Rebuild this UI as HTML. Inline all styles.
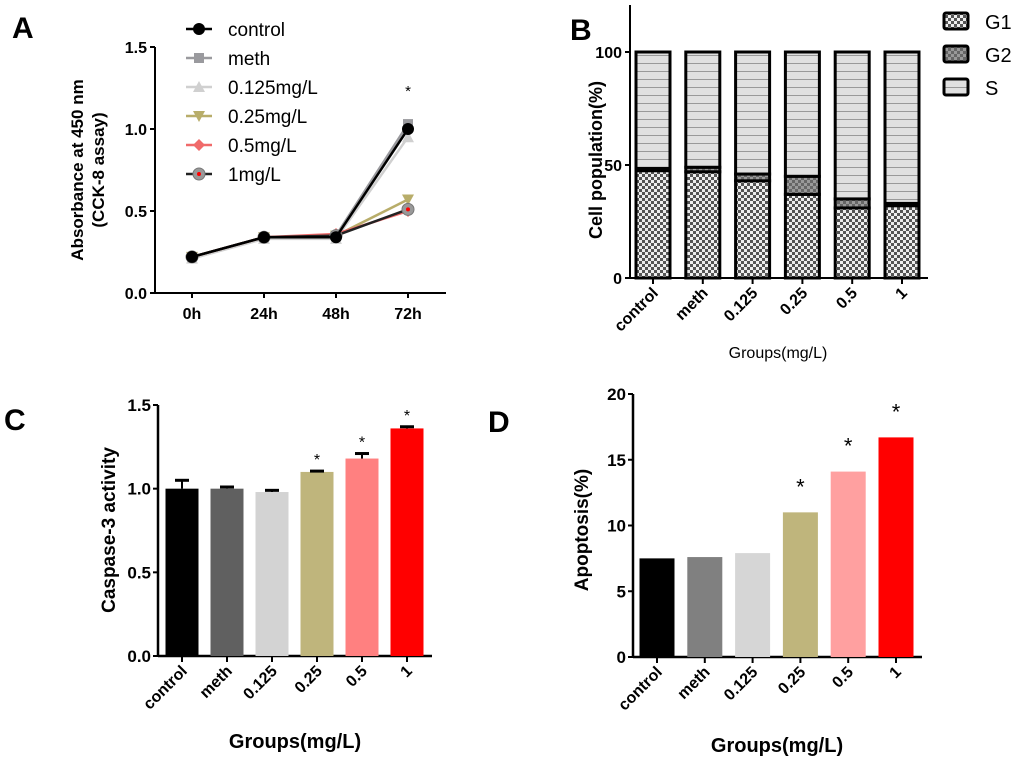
<!DOCTYPE html>
<html><head><meta charset="utf-8"><style>
body{margin:0;background:#fff;}
svg{display:block;font-family:"Liberation Sans",Arial,sans-serif;}
.b{font-weight:bold;}
</style></head><body>
<svg id="s" width="1020" height="768" viewBox="0 0 1020 768">
<defs>
<pattern id="chk" width="6" height="6" patternUnits="userSpaceOnUse"><rect width="6" height="6" fill="#eee"/><rect width="3" height="3" fill="#555"/><rect x="3" y="3" width="3" height="3" fill="#555"/></pattern>
<pattern id="chk2" width="6" height="6" patternUnits="userSpaceOnUse"><rect width="6" height="6" fill="#999"/><rect width="3" height="3" fill="#666"/><rect x="3" y="3" width="3" height="3" fill="#666"/></pattern>
<pattern id="hor" width="6" height="8" patternUnits="userSpaceOnUse"><rect width="6" height="8" fill="#e0e0e0"/><rect y="7" width="6" height="1" fill="#999"/></pattern>
</defs>
<text x="12" y="38" font-size="30" class="b">A</text>
<text x="570" y="40" font-size="30" class="b">B</text>
<text x="4" y="430" font-size="30" class="b">C</text>
<text x="488" y="432" font-size="30" class="b">D</text>
<g id="ga"></g><g id="gb"></g><g id="gc"></g><g id="gd"></g>
</svg>
<script>
const NS="http://www.w3.org/2000/svg";
function mk(p,t,a,txt){const e=document.createElementNS(NS,t);for(const k in a)e.setAttribute(k,a[k]);if(txt!==undefined)e.textContent=txt;p.appendChild(e);return e;}

// Panel A data
const aTimes=["0h","24h","48h","72h"];
const aSeries=["control","meth","0.125mg/L","0.25mg/L","0.5mg/L","1mg/L"];
const aControl=[0.22,0.34,0.34,1.0];
const aMeth=[0.21,0.34,0.35,1.03];
const a0125=[0.21,0.33,0.33,0.95];
const a025=[0.22,0.34,0.35,0.57];
const a05=[0.22,0.34,0.36,0.50];
const a1=[0.22,0.34,0.35,0.51];
const aTicks=[0,0.5,1.0,1.5];
// Panel B data
const groups=["control","meth","0.125","0.25","0.5","1"];
const bG1=[47.5,47,43,37,31,32];
const bG2=[1,2,3,8,4,1];
const bS=[51.5,51,54,55,65,67];
const bTicks=[0,50,100];
// Panel C data
const cVals=[1.0,1.0,0.98,1.1,1.18,1.36];
const cErr=[0.05,0.01,0.01,0.005,0.03,0.01];
const cStar=[false,false,false,true,true,true];
const cTicks=[0,0.5,1.0,1.5];
// Panel D data
const dVals=[7.5,7.6,7.9,11,14.1,16.7];
const dStar=[false,false,false,true,true,true];
const dTicks=[0,5,10,15,20];

const cColors=["#000","#606060","#d3d3d3","#bfb57c","#ff8080","#ff0000"];
const dColors=["#000","#808080","#d6d6d6","#bfb57c","#ffa0a0","#ff0000"];

// ---------- A ----------
(function(){
const g=document.getElementById('ga');
const x0=155,y0=293,yTop=47,xEnd=446;
const y=v=>y0-(v/1.5)*(y0-yTop);
const x=i=>192+i*72;
mk(g,'line',{x1:x0,y1:yTop,x2:x0,y2:y0,stroke:'#000','stroke-width':2});
mk(g,'line',{x1:x0,y1:y0,x2:xEnd,y2:y0,stroke:'#000','stroke-width':2});
aTicks.forEach(t=>{mk(g,'line',{x1:x0-5,y1:y(t),x2:x0,y2:y(t),stroke:'#000','stroke-width':2});
 const e=mk(g,'text',{x:x0-8,y:y(t)+6,'text-anchor':'end','font-size':16,class:'b'},t.toFixed(1));
 });
aTimes.forEach((t,i)=>{mk(g,'line',{x1:x(i),y1:y0,x2:x(i),y2:y0+5,stroke:'#000','stroke-width':2});
 const e=mk(g,'text',{x:x(i),y:y0+26,'text-anchor':'middle','font-size':16,class:'b'},t);
 });
const yt=mk(g,'text',{transform:'translate(83,170) rotate(-90)','text-anchor':'middle','font-size':17,class:'b'});

mk(yt,'tspan',{x:0,y:0},'Absorbance at 450 nm');mk(yt,'tspan',{x:0,y:21},'(CCK-8 assay)');
const data=[aMeth,a0125,a025,a05,a1,aControl];
const cols=["#9a9a9e","#d0d0d0","#b8ad6a","#f06a6a","#222","#000"];
const mks=["sq","tri","tri-d","dia","circ2","circ"];
data.forEach((d,si)=>{
 const pts=d.map((v,i)=>x(i)+','+y(v)).join(' ');
 const pl=mk(g,'polyline',{points:pts,fill:'none',stroke:cols[si],'stroke-width':2.5});
 
 d.forEach((v,i)=>drawMk(g,mks[si],x(i),y(v),cols[si]));
});
const st=mk(g,'text',{x:x(3),y:y(1.2),'text-anchor':'middle','font-size':15},'*');

const lcol=["#000","#9a9a9e","#d0d0d0","#b8ad6a","#f06a6a","#222"];
const lmk=["circ","sq","tri","tri-d","dia","circ2"];
aSeries.forEach((s,i)=>{const ly=29+i*29;
 const lg=mk(g,'g',{});
 mk(lg,'line',{x1:186,y1:ly,x2:212,y2:ly,stroke:lcol[i],'stroke-width':2.5});
 drawMk(lg,lmk[i],199,ly,lcol[i]);
 mk(lg,'text',{x:228,y:ly+7,'font-size':19},s);});
function drawMk(p,t,cx,cy,c){let e;
 if(t=='circ')e=mk(p,'circle',{cx,cy,r:6,fill:'#000'});
 else if(t=='circ2'){e=mk(p,'circle',{cx,cy,r:6,fill:'#999',stroke:'#777'});mk(p,'circle',{cx,cy,r:2,fill:'red'});}
 else if(t=='sq')e=mk(p,'rect',{x:cx-5,y:cy-5,width:10,height:10,fill:c});
 else if(t=='tri')e=mk(p,'polygon',{points:`${cx},${cy-6} ${cx-6},${cy+5} ${cx+6},${cy+5}`,fill:c});
 else if(t=='tri-d')e=mk(p,'polygon',{points:`${cx},${cy+6} ${cx-6},${cy-5} ${cx+6},${cy-5}`,fill:c});
 else e=mk(p,'polygon',{points:`${cx},${cy-6} ${cx+6},${cy} ${cx},${cy+6} ${cx-6},${cy}`,fill:c});
 }
})();

// ---------- B ----------
(function(){
const g=document.getElementById('gb');
const x0=630,y0=278,yTop=52,xEnd=928;
const y=v=>y0-(v/100)*(y0-yTop);
const x=i=>653+i*49.8;const w=34;
mk(g,'line',{x1:x0,y1:5,x2:x0,y2:y0,stroke:'#000','stroke-width':2});
mk(g,'line',{x1:x0,y1:y0,x2:xEnd,y2:y0,stroke:'#000','stroke-width':2});
bTicks.forEach(t=>{mk(g,'line',{x1:x0-5,y1:y(t),x2:x0,y2:y(t),stroke:'#000','stroke-width':2});
 const e=mk(g,'text',{x:x0-8,y:y(t)+6,'text-anchor':'end','font-size':16,class:'b'},t);
 });
groups.forEach((gr,i)=>{
 const cx=x(i);let base=0;
 [[bG1,'url(#chk)','bar-g1'],[bG2,'url(#chk2)','bar-g2'],[bS,'url(#hor)','bar-s']].forEach(([arr,f,n])=>{
  const r=mk(g,'rect',{x:cx-w/2,y:y(base+arr[i]),width:w,height:y(base)-y(base+arr[i]),fill:f,stroke:'#000','stroke-width':3});
  base+=arr[i];});
 mk(g,'line',{x1:cx,y1:y0,x2:cx,y2:y0+6,stroke:'#000','stroke-width':2});
 const t=mk(g,'text',{transform:`translate(${cx+6},${y0+16}) rotate(-45)`,'text-anchor':'end','font-size':16,class:'b'},gr);
 });
const yt=mk(g,'text',{transform:'translate(602,160) rotate(-90)','text-anchor':'middle','font-size':18,class:'b'},'Cell population(%)');

const xt=mk(g,'text',{x:778,y:358,'text-anchor':'middle','font-size':16},'Groups(mg/L)');

[['G1','url(#chk)'],['G2','url(#chk2)'],['S','url(#hor)']].forEach(([l,f],i)=>{const ly=20+i*33;
 const lg=mk(g,'g',{});
 mk(lg,'rect',{x:944,y:ly-7,width:24,height:16,fill:f,stroke:'#000','stroke-width':3,rx:2});
 mk(lg,'text',{x:985,y:ly+9,'font-size':20},l);});
})();

// ---------- generic bar panels ----------
function barPanel(id,x0,y0,yTop,xEnd,maxV,ticks,fmt,cx0,step,w,vals,err,stars,ytitle,ytx,yty,xty,tickX,colors){
const g=document.getElementById(id);
const y=v=>y0-(v/maxV)*(y0-yTop);
const x=i=>cx0+i*step;
mk(g,'line',{x1:x0,y1:yTop,x2:x0,y2:y0,stroke:'#000','stroke-width':2.5});
mk(g,'line',{x1:x0,y1:y0,x2:xEnd,y2:y0,stroke:'#000','stroke-width':2.5});
ticks.forEach(t=>{mk(g,'line',{x1:x0-5,y1:y(t),x2:x0,y2:y(t),stroke:'#000','stroke-width':2});
 const e=mk(g,'text',{x:x0-7,y:y(t)+6,'text-anchor':'end','font-size':17,class:'b'},fmt(t));
 });
vals.forEach((v,i)=>{const cx=x(i);
 const r=mk(g,'rect',{x:cx-w/2,y:y(v),width:w,height:y0-y(v),fill:colors[i]});
 
 let top=y(v);
 if(err){const ey=y(v+err[i]);mk(g,'line',{x1:cx,y1:ey,x2:cx,y2:y(v),stroke:'#000','stroke-width':2});
  const c=mk(g,'line',{x1:cx-7,y1:ey,x2:cx+7,y2:ey,stroke:'#000','stroke-width':3});top=ey;}
 if(stars[i]){const s=mk(g,'text',{x:cx,y:top-(err?6:18),'text-anchor':'middle','font-size':err?16:22},'*');
  }
 mk(g,'line',{x1:cx,y1:y0,x2:cx,y2:y0+6,stroke:'#000','stroke-width':2});
 const t=mk(g,'text',{transform:`translate(${cx+6},${y0+16}) rotate(-45)`,'text-anchor':'end','font-size':16,class:'b'},groups[i]);
 });
const yt=mk(g,'text',{transform:`translate(${ytx},${yty}) rotate(-90)`,'text-anchor':'middle','font-size':19,class:'b'},ytitle);

const xt=mk(g,'text',{x:tickX,y:xty,'text-anchor':'middle','font-size':20,class:'b'},'Groups(mg/L)');

}
barPanel('gc',158,656,405,432,1.5,cTicks,t=>t.toFixed(1),182,45,33,cVals,cErr,cStar,'Caspase-3 activity',115,530,748,295,cColors);
barPanel('gd',633,657,394,922,20,dTicks,t=>String(t),657,47.8,35,dVals,null,dStar,'Apoptosis(%)',588,530,752,777,dColors);
</script>
</body></html>
